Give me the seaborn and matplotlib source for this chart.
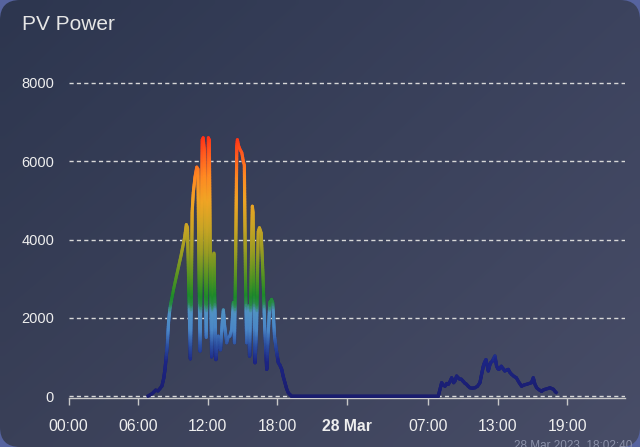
import numpy as np
import pandas as pd
import matplotlib
matplotlib.use("Agg")
import matplotlib.pyplot as plt
import seaborn as sns
from matplotlib.collections import LineCollection
from matplotlib.colors import LinearSegmentedColormap, Normalize
from matplotlib.patches import FancyBboxPatch

# ---------------- data (hours since 27 Mar 00:00, watts) ----------------
hours = [
    6.85, 7.2, 7.5, 7.7, 7.9, 8.05, 8.2, 8.31, 8.5, 8.62, 8.72, 8.8, 9.1, 9.4, 9.7,
    10.0, 10.15, 10.25, 10.38, 10.5, 10.58, 10.65, 10.75, 10.9, 11.05, 11.15, 11.25,
    11.33, 11.42, 11.52, 11.6, 11.7, 11.78, 11.87, 11.95, 12.05, 12.13, 12.2, 12.33,
    12.43, 12.53, 12.6, 12.7, 12.8, 12.9, 13.0, 13.1, 13.25, 13.34, 13.45, 13.63,
    13.75, 13.9, 14.06, 14.2, 14.3, 14.4, 14.5, 14.55, 14.65, 14.78, 14.93, 15.06,
    15.15, 15.25, 15.35, 15.5, 15.6, 15.7, 15.84, 15.9, 16.0, 16.07, 16.2, 16.35,
    16.45, 16.6, 16.75, 16.9, 17.08, 17.2, 17.35, 17.5, 17.6, 17.75, 17.9, 18.08,
    18.2, 18.37, 18.5, 18.65, 18.8, 18.94, 19.2,
    31.87, 32.0, 32.16, 32.3, 32.45, 32.6, 32.74, 32.9, 33.02, 33.2, 33.3, 33.45,
    33.6, 33.74, 33.85, 34.0, 34.15, 34.3, 34.45, 34.6, 34.8, 35.03, 35.25, 35.46,
    35.6, 35.75, 35.85, 35.98, 36.08, 36.18, 36.3, 36.38, 36.5, 36.6, 36.75, 36.85,
    36.9, 37.0, 37.1, 37.2, 37.3, 37.45, 37.6, 37.75, 37.9, 38.05, 38.2, 38.4, 38.6,
    38.8, 39.05, 39.25, 39.5, 39.7, 39.9, 40.06, 40.2, 40.35, 40.55, 40.78, 40.9,
    41.07, 41.3, 41.5, 41.65, 41.8, 41.95, 42.03,
]
watts = [
    0, 60, 150, 130, 200, 260, 450, 680, 1270, 1900, 2200, 2350, 2800, 3200, 3600,
    4050, 4380, 4300, 2500, 950, 2500, 4700, 5200, 5600, 5850, 5800, 3000,
    1150, 3000, 6550, 6600, 6300, 3000, 1500, 4000, 6600, 6550, 4000, 1000,
    2500, 3650, 2500, 930, 1300, 1530, 1250, 1180, 1900, 2200, 1800, 1360,
    1500, 1530, 1700, 2390, 1360, 3500, 6400, 6550, 6400, 6300, 6220, 6000,
    5900, 3000, 1360, 2300, 1020, 2500, 4850, 4700, 2000, 850, 1700, 4200,
    4300, 4170, 3150, 1800, 680, 1530, 2400, 2470, 2390, 1530, 1190, 850,
    800, 680, 500, 345, 180, 80, 0,
    0, 150, 340, 280, 250, 320, 300, 380, 465, 340, 380, 510,
    460, 425, 430, 380, 330, 300, 250, 210, 200, 210, 250, 340,
    550, 760, 850, 930, 780, 640, 780, 850, 880, 930, 1020, 850,
    760, 700, 680, 720, 760, 700, 640, 660, 680, 600, 550, 500, 465,
    360, 250, 280, 300, 320, 340, 465, 300, 210, 160, 120, 150,
    170, 190, 210, 190, 170, 110, 90,
]
tick_hours = [0, 6, 12, 18, 24, 31, 37, 43]
tick_labels = ["00:00", "06:00", "12:00", "18:00", "28 Mar", "07:00", "13:00", "19:00"]
y_ticks = [0, 2000, 4000, 6000, 8000]
title = "PV Power"
footer = "28 Mar 2023, 18:02:40"

# colour thresholds (value, colour)
grad_vals = [0, 900, 1300, 1700, 2150, 2350, 2550, 3000, 3700, 4300, 5000, 5600, 6200, 6700]
grad_cols = ["#1a1d6e", "#1c2585", "#2c4fa0", "#4a86c6", "#5192c4", "#2a8a48", "#1d8a2a",
             "#4f9222", "#9b9c22", "#c8a424", "#f0a424", "#ff8a22", "#ff5a1e", "#ff2a14"]

# ---------------- figure ----------------
W, H = 640, 447
fig = plt.figure(figsize=(W / 100, H / 100), dpi=100)
fig.patch.set_facecolor("#56639f")

# card background with gradient and rounded corners
bg = fig.add_axes([0, 0, 1, 1], zorder=-5)
bg.set_xlim(0, W)
bg.set_ylim(0, H)
bg.axis("off")
tl = np.array([0x3a, 0x40, 0x58]) / 255
tr = np.array([0x48, 0x4d, 0x67]) / 255
bl = np.array([0x2d, 0x36, 0x4f]) / 255
br = np.array([0x3c, 0x43, 0x5e]) / 255
gx = np.linspace(0, 1, 64)[None, :, None]
gy = np.linspace(0, 1, 64)[:, None, None]
img = (1 - gy) * ((1 - gx) * tl + gx * tr) + gy * ((1 - gx) * bl + gx * br)
im = bg.imshow(img, extent=[0, W, H, 0], aspect="auto", interpolation="bilinear")
bg.set_ylim(0, H)
card = FancyBboxPatch((0, 0), W, H, boxstyle="round,pad=0,rounding_size=20",
                      transform=bg.transData, facecolor="none", edgecolor="none")
bg.add_patch(card)
im.set_clip_path(card)

# main axes
px_per_w = (396 - 83) / 8000
ylo, yhi = -60, 8060
bottom_px = 396 + 60 * px_per_w
top_px = 83 - 60 * px_per_w
left_px, right_px = 68.6, 68.6 + 48 * 11.6
ax = fig.add_axes([left_px / W, (H - bottom_px) / H, (right_px - left_px) / W,
                   (bottom_px - top_px) / H])
ax.set_facecolor("none")

df = pd.DataFrame({"hour": hours, "watts": watts})
sns.lineplot(data=df, x="hour", y="watts", ax=ax, color=grad_cols[0], lw=2.3,
             sort=False, estimator=None, zorder=3)

cmap = LinearSegmentedColormap.from_list(
    "pv", [(v / grad_vals[-1], c) for v, c in zip(grad_vals, grad_cols)])
norm = Normalize(0, grad_vals[-1])
segs, cols = [], []
for i in range(len(hours) - 1):
    x0, x1 = hours[i], hours[i + 1]
    y0, y1 = watts[i], watts[i + 1]
    n = max(1, int(abs(y1 - y0) / 40))
    xs = np.linspace(x0, x1, n + 1)
    ys = np.linspace(y0, y1, n + 1)
    for j in range(n):
        segs.append([(xs[j], ys[j]), (xs[j + 1], ys[j + 1])])
        cols.append(cmap(norm((ys[j] + ys[j + 1]) / 2)))
lc = LineCollection(segs, colors=cols, linewidths=2.3, capstyle="round",
                    joinstyle="round", zorder=4)
ax.add_collection(lc)

ax.set_xlim(0, 48)
ax.set_ylim(ylo, yhi)
ax.set_yticks(y_ticks)
ax.set_yticklabels([str(v) for v in y_ticks])
ax.set_xticks(tick_hours)
ax.set_xticklabels(tick_labels)
ax.set_xlabel("")
ax.set_ylabel("")

ax.yaxis.grid(True, color="#d8d8d8", linestyle=(0, (3, 2.3)), lw=1.0, zorder=1)
ax.xaxis.grid(False)
for s in ["left", "right", "top"]:
    ax.spines[s].set_visible(False)
ax.spines["bottom"].set_color("#c8c8c8")
ax.spines["bottom"].set_linewidth(1.0)

fam = ["Liberation Sans", "DejaVu Sans"]
ax.tick_params(axis="y", length=0, pad=10.5, labelsize=10.5, labelcolor="#eeeeee")
ax.tick_params(axis="x", length=5, width=1, color="#c8c8c8", pad=10,
               labelsize=11.3, labelcolor="#eeeeee", direction="out")
for lab in ax.get_yticklabels() + ax.get_xticklabels():
    lab.set_family(fam)
ax.get_xticklabels()[4].set_fontweight("bold")

fig.text(22 / W, 1 - 29.5 / H, title, fontsize=15, color="#e6e6e6", family=fam,
         ha="left", va="baseline")
fig.text(632 / W, -1.5 / H, footer, fontsize=8.5, color="#8a90a8", family=fam,
         ha="right", va="baseline")

fig.savefig("out.png", dpi=100, facecolor=fig.get_facecolor())
